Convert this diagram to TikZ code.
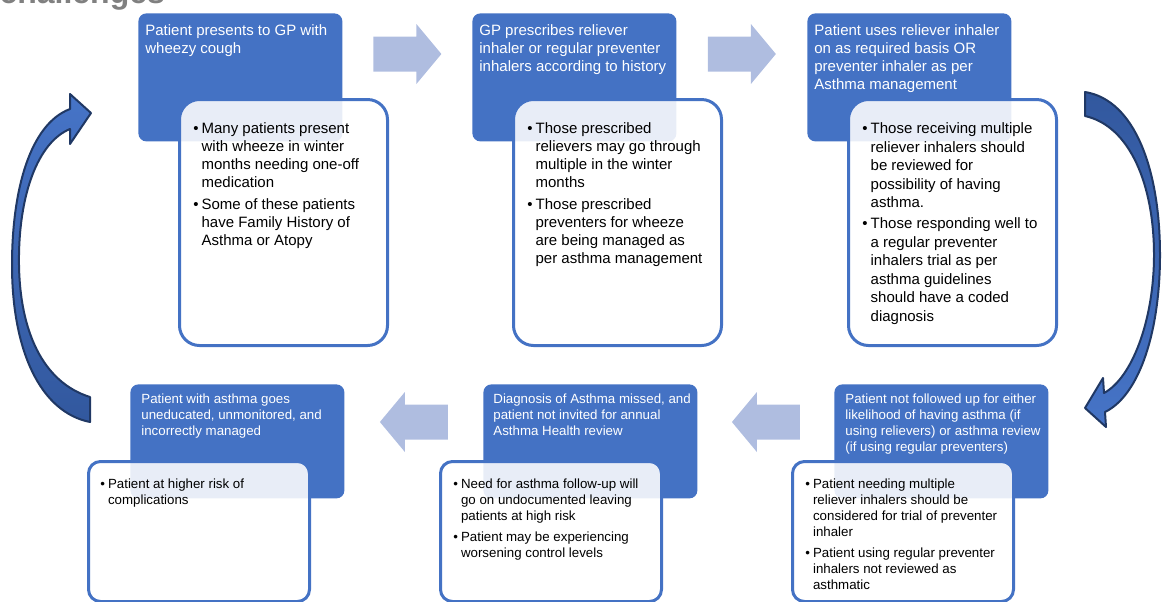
\documentclass[tikz,border=0pt]{standalone}
\usepackage{fontspec}
\setmainfont{Liberation Sans}
\usetikzlibrary{calc}
\definecolor{BoxClr}{rgb}{0.267,0.447,0.769}
\definecolor{FlowClr}{rgb}{0.686,0.741,0.878}
\definecolor{BendClr}{rgb}{0.275,0.455,0.78}
\definecolor{BendDark}{rgb}{0.196,0.345,0.62}
\definecolor{EdgeClr}{rgb}{0.125,0.22,0.392}
\definecolor{TitleClr}{rgb}{0.5,0.5,0.5}

\tikzset{
  headbox/.style={fill=BoxClr,rounded corners=4pt,anchor=north west,inner sep=0pt},
  notebox/.style={draw=BoxClr,line width=1.5pt,fill=white,fill opacity=0.88,anchor=north west,inner sep=0pt},
  headtxt/.style={text=white,anchor=north west,align=left,inner sep=0pt},
  notetxt/.style={text=black,anchor=north west,inner sep=0pt},
  bigfont/.style={font=\fontsize{7.5}{9}\selectfont},
  smallfont/.style={font=\fontsize{6.65}{8}\selectfont},
  curvearrow/.style={draw=EdgeClr,line width=1pt,line join=round},
  flowarrow/.pic={\fill[FlowClr] (-34,-17.5) -- (9,-17.5) -- (9,-30) -- (34,0) -- (9,30) -- (9,17.5) -- (-34,17.5) -- cycle;}
}

\begin{document}
\begin{tikzpicture}[x=0.5pt,y=-0.5pt]
\clip (0,0) rectangle (1162,601);

\node[anchor=base east,text=TitleClr,font=\bfseries\fontsize{16}{19}\selectfont] (T) at (172,3) {challenges};

\node[headbox,minimum width=102pt,minimum height=64pt] (B1) at (138,13) {};
\node[headbox,minimum width=102pt,minimum height=64pt] (B2) at (472,13) {};
\node[headbox,minimum width=102pt,minimum height=64pt] (B3) at (807,13) {};
\node[headbox,minimum width=107pt,minimum height=57pt] (B4) at (834,384) {};
\node[headbox,minimum width=107pt,minimum height=57pt] (B5) at (483,384) {};
\node[headbox,minimum width=107pt,minimum height=57pt] (B6) at (130,384) {};

\node[notebox,rounded corners=10pt,minimum width=104pt,minimum height=123pt] (W1) at (178,98) {};
\node[notebox,rounded corners=10pt,minimum width=104pt,minimum height=123pt] (W2) at (512,98) {};
\node[notebox,rounded corners=10pt,minimum width=104pt,minimum height=123pt] (W3) at (847,98) {};
\node[notebox,rounded corners=6pt,minimum width=110.5pt,minimum height=70pt] (W4) at (791,460) {};
\node[notebox,rounded corners=6pt,minimum width=110.5pt,minimum height=70pt] (W5) at (439,460) {};
\node[notebox,rounded corners=6pt,minimum width=110.5pt,minimum height=70pt] (W6) at (87,460) {};

\node[headtxt,bigfont] (H1) at ($(B1.north west)+(7,11.5)$) {Patient presents to GP with\\wheezy cough};
\node[headtxt,bigfont] (H2) at ($(B2.north west)+(7,11.5)$) {GP prescribes reliever\\inhaler or regular preventer\\inhalers according to history};
\node[headtxt,bigfont] (H3) at ($(B3.north west)+(7,11.5)$) {Patient uses reliever inhaler\\on as required basis OR\\preventer inhaler as per\\Asthma management};
\node[headtxt,smallfont] (H4) at ($(B4.north west)+(11,9)$) {Patient not followed up for either\\likelihood of having asthma (if\\using relievers) or asthma review\\(if using regular preventers)};
\node[headtxt,smallfont] (H5) at ($(B5.north west)+(10,9)$) {Diagnosis of Asthma missed, and\\patient not invited for annual\\Asthma Health review};
\node[headtxt,smallfont] (H6) at ($(B6.north west)+(11,9)$) {Patient with asthma goes\\uneducated, unmonitored, and\\incorrectly managed};

\node[notetxt,bigfont] (N1) at ($(W1.north west)+(15,22)$) {\begin{tabular}{@{}l@{\hspace{1.5pt}}l@{}}
\textbullet & Many patients present\\ & with wheeze in winter\\ & months needing one-off\\ & medication\\[2pt]
\textbullet & Some of these patients\\ & have Family History of\\ & Asthma or Atopy
\end{tabular}};
\node[notetxt,bigfont] (N2) at ($(W2.north west)+(15,22)$) {\begin{tabular}{@{}l@{\hspace{1.5pt}}l@{}}
\textbullet & Those prescribed\\ & relievers may go through\\ & multiple in the winter\\ & months\\[2pt]
\textbullet & Those prescribed\\ & preventers for wheeze\\ & are being managed as\\ & per asthma management
\end{tabular}};
\node[notetxt,font=\fontsize{7.5}{9.3}\selectfont] (N3) at ($(W3.north west)+(15,22)$) {\begin{tabular}{@{}l@{\hspace{1.5pt}}l@{}}
\textbullet & Those receiving multiple\\ & reliever inhalers should\\ & be reviewed for\\ & possibility of having\\ & asthma.\\[1pt]
\textbullet & Those responding well to\\ & a regular preventer\\ & inhalers trial as per\\ & asthma guidelines\\ & should have a coded\\ & diagnosis
\end{tabular}};
\node[notetxt,smallfont] (N4) at ($(W4.north west)+(14,17)$) {\begin{tabular}{@{}l@{\hspace{1.5pt}}l@{}}
\textbullet & Patient needing multiple\\ & reliever inhalers should be\\ & considered for trial of preventer\\ & inhaler\\[2.5pt]
\textbullet & Patient using regular preventer\\ & inhalers not reviewed as\\ & asthmatic
\end{tabular}};
\node[notetxt,smallfont] (N5) at ($(W5.north west)+(14,17)$) {\begin{tabular}{@{}l@{\hspace{1.5pt}}l@{}}
\textbullet & Need for asthma follow-up will\\ & go on undocumented leaving\\ & patients at high risk\\[2.5pt]
\textbullet & Patient may be experiencing\\ & worsening control levels
\end{tabular}};
\node[notetxt,smallfont] (N6) at ($(W6.north west)+(13,17)$) {\begin{tabular}{@{}l@{\hspace{1.5pt}}l@{}}
\textbullet & Patient at higher risk of\\ & complications
\end{tabular}};

\pic at ($(B1.north east)!.5!(B2.north west)+(0,41)$) {flowarrow};
\pic at ($(B2.north east)!.5!(B3.north west)+(0,41)$) {flowarrow};
\pic[rotate=180] at ($(B6.north east)!.5!(B5.north west)+(0,38)$) {flowarrow};
\pic[rotate=180] at ($(B5.north east)!.5!(B4.north west)+(0,38)$) {flowarrow};

\draw[curvearrow,top color=BendClr,bottom color=BendDark] (90,422) -- (90,397) .. controls (42,382) and (20,330) .. (19,265) .. controls (18,195) and (38,142) .. (70,129) -- (70,144) -- (91,113) -- (70,94) -- (70,109) .. controls (30,124) and (12,190) .. (12,265) .. controls (12,350) and (40,412) .. (90,422) -- cycle;
\draw[curvearrow,top color=BendDark,bottom color=BendClr] (1085,92) .. controls (1135,100) and (1160,170) .. (1160,255) .. controls (1160,330) and (1140,395) .. (1105,412) -- (1106,427) -- (1085,408) -- (1103,378) -- (1104,393) .. controls (1132,378) and (1154,320) .. (1154,255) .. controls (1154,185) and (1130,126) .. (1085,116) -- cycle;

\end{tikzpicture}
\end{document}
